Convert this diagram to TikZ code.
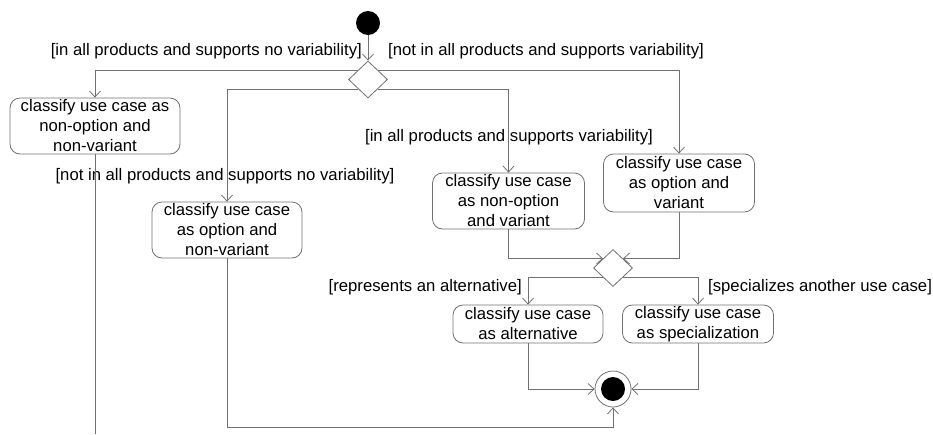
\documentclass[tikz,border=0pt]{standalone}
\usepackage{fontspec}
\setmainfont{Liberation Sans}
\usetikzlibrary{arrows.meta,shapes.geometric}
\definecolor{edge}{RGB}{112,112,112}
\begin{document}
\begin{tikzpicture}[x=1pt,y=-1pt,
  txt/.style={font=\fontsize{16.7}{20}\selectfont},
  act/.style={txt, draw=edge, line width=0.8pt, rectangle, rounded corners=10pt,
    align=center, inner sep=0pt},
  decision/.style={diamond, draw=edge, line width=0.8pt, minimum width=39pt,
    minimum height=37pt, inner sep=0pt},
  guard/.style={txt, inner sep=0pt},
  flow/.style={draw=edge, line width=0.8pt},
  arr/.style={flow, -{Straight Barb[length=6pt,width=11pt]}},
]
\useasboundingbox (0,0) rectangle (933,434);

% initial and final states
\node[circle, fill=black, minimum size=24pt, inner sep=0pt] (start) at (368,23) {};
\node[circle, draw=edge, line width=0.8pt, minimum size=36pt, inner sep=0pt] (fin) at (613,389) {};
\node[circle, fill=black, minimum size=24pt, inner sep=0pt] (finin) at (613,389) {};

% decisions
\node[decision] (d1) at (368,79.5) {};
\node[decision] (d2) at (613,268) {};

% activities
\node[act, minimum width=170pt, minimum height=56pt] (b1) at (95,126)
  {classify use case as\\non-option and\\non-variant};
\node[act, minimum width=150pt, minimum height=56pt] (b2) at (227,230)
  {classify use case\\as option and\\non-variant};
\node[act, minimum width=152pt, minimum height=56pt] (b3) at (508.5,201)
  {classify use case\\as non-option\\and variant};
\node[act, minimum width=151pt, minimum height=58pt] (b4) at (679,183)
  {classify use case\\as option and\\variant};
\node[act, minimum width=150pt, minimum height=38pt] (b5) at (528,324)
  {classify use case\\as alternative};
\node[act, minimum width=151pt, minimum height=38pt] (b6) at (698,324)
  {classify use case\\as specialization};

% guards
\node[guard, anchor=east] (g1) at (362,51) {[in all products and supports no variability]};
\node[guard, anchor=west] (g2) at (388,51) {[not in all products and supports variability]};
\node[guard] (g3) at (509,137) {[in all products and supports variability]};
\node[guard] (g4) at (225,176) {[not in all products and supports no variability]};
\node[guard, anchor=east] (g5) at (522,287) {[represents an alternative]};
\node[guard, anchor=west] (g6) at (708,287) {[specializes another use case]};

% free ends and bends
\coordinate (e1) at (95,434);
\coordinate (k2) at (613,427);

% flows
\draw[arr] (start) -- (d1);
\draw[arr] (d1.north west) -| (b1);
\draw[arr] (d1.north east) -| (b4);
\draw[arr] (d1.south west) -| (b2);
\draw[arr] (d1.south east) -| (b3);
\draw[flow] (b1) -- (e1);
\draw[arr] (b2) |- (k2) -- (fin);
\draw[arr] (b3) |- (d2.north west);
\draw[arr] (b4) |- (d2.north east);
\draw[arr] (d2.south west) -| (b5);
\draw[arr] (d2.south east) -| (b6);
\draw[arr] (b5) |- (fin);
\draw[arr] (b6) |- (fin);
\end{tikzpicture}
\end{document}
